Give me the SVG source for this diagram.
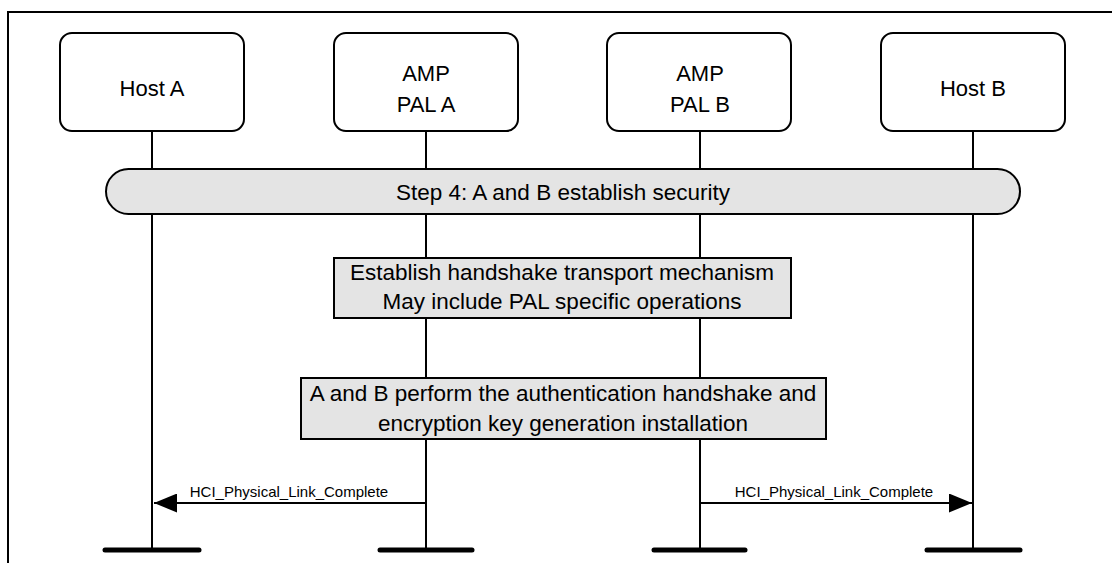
<svg xmlns="http://www.w3.org/2000/svg" width="1112" height="563" viewBox="0 0 1112 563">
<style>
.frame{fill:none;stroke:#000;stroke-width:2}
.node{fill:#fff;stroke:#000;stroke-width:2}
.gray{fill:#e4e4e4;stroke:#000;stroke-width:2}
.life{stroke:#000;stroke-width:2;fill:none}
.foot{stroke:#000;stroke-width:5;stroke-linecap:round}
.msg{stroke:#000;stroke-width:2;fill:none}
text{font-family:"Liberation Sans",Arial,sans-serif;fill:#000}
.t{font-size:22px;text-anchor:middle}
.g{font-size:22.5px;text-anchor:middle}
.l{font-size:15px;text-anchor:middle}
</style>
<defs>
<marker id="ah" markerWidth="23" markerHeight="19" refX="23" refY="9.5" orient="auto" markerUnits="userSpaceOnUse">
<path d="M0,0 L23,9.5 L0,19 Z" fill="#000"/>
</marker>
</defs>
<path class="frame" d="M8,563 V12 H1112"/>
<g id="lifelines">
<line class="life" x1="152" y1="131" x2="152" y2="550"/>
<line class="life" x1="426" y1="131" x2="426" y2="550"/>
<line class="life" x1="700" y1="131" x2="700" y2="550"/>
<line class="life" x1="973" y1="131" x2="973" y2="550"/>
<line class="foot" x1="105" y1="550" x2="199" y2="550"/>
<line class="foot" x1="380" y1="550" x2="472" y2="550"/>
<line class="foot" x1="654" y1="550" x2="745" y2="550"/>
<line class="foot" x1="927" y1="550" x2="1020" y2="550"/>
</g>
<g id="hostA">
<rect class="node" x="60" y="33" width="184" height="98" rx="12"/>
<text class="t" x="152" y="96">Host A</text>
</g>
<g id="palA">
<rect class="node" x="334" y="33" width="184" height="98" rx="12"/>
<text class="t" x="426" y="81">AMP</text>
<text class="t" x="426" y="112">PAL A</text>
</g>
<g id="palB">
<rect class="node" x="607" y="33" width="184" height="98" rx="12"/>
<text class="t" x="700" y="81">AMP</text>
<text class="t" x="700" y="112">PAL B</text>
</g>
<g id="hostB">
<rect class="node" x="881" y="33" width="184" height="98" rx="12"/>
<text class="t" x="973" y="96">Host B</text>
</g>
<g id="step4">
<rect class="gray" x="106" y="169" width="914" height="45" rx="22.5"/>
<text class="g" x="563" y="200">Step 4: A and B establish security</text>
</g>
<g id="transport">
<rect class="gray" x="334" y="258" width="457" height="60"/>
<text class="g" x="562" y="280">Establish handshake transport mechanism</text>
<text class="g" x="562" y="309">May include PAL specific operations</text>
</g>
<g id="auth">
<rect class="gray" x="301" y="378" width="525" height="61"/>
<text class="g" x="563" y="401">A and B perform the authentication handshake and</text>
<text class="g" x="563" y="431">encryption key generation installation</text>
</g>
<g id="connectors">
<line class="msg" x1="426" y1="503" x2="154" y2="503" marker-end="url(#ah)"/>
<text class="l" x="289" y="497">HCI_Physical_Link_Complete</text>
<line class="msg" x1="700" y1="503" x2="972" y2="503" marker-end="url(#ah)"/>
<text class="l" x="834" y="497">HCI_Physical_Link_Complete</text>
</g>
</svg>
